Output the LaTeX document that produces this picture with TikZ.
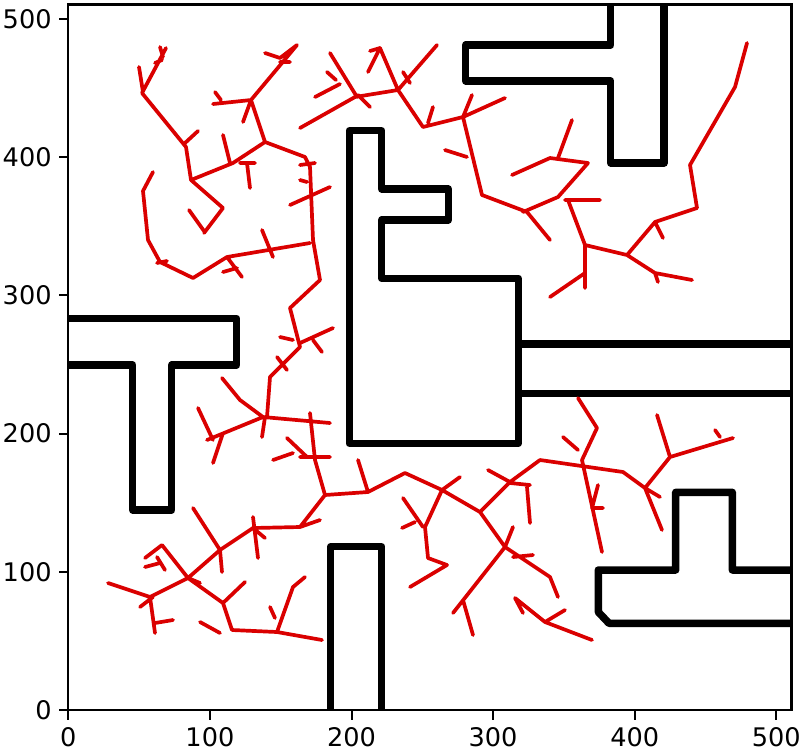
\documentclass[tikz,border=0pt]{standalone}
\usepackage{fontspec}
\setmainfont{DejaVu Sans}
\definecolor{treered}{RGB}{218,0,0}
\begin{document}
\begin{tikzpicture}[x=0.5pt,y=-0.5pt,
  tree/.style={draw=treered,line width=1.85pt,line cap=round,line join=round},
  obst/.style={draw=black,line width=3.75pt,line join=round},
  frame/.style={draw=black,line width=1.15pt},
  tick/.style={draw=black,line width=1pt},
  ticklab/.style={font=\fontsize{12.8}{15}\selectfont,inner sep=0pt}]
\useasboundingbox[fill=white] (0,0) rectangle (802,751);
% obstacles
\begin{scope}
\clip (68.3,4.5) rectangle (791.5,710);
\draw[obst] (610.7,0)--(610.7,45)--(465.7,45)--(465.7,81)--(610.7,81)--(610.7,163)--(664,163)--(664,0);
\draw[obst] (349.3,130.7)--(381.7,130.7)--(381.7,189)--(448.3,189)--(448.3,220)--(381.7,220)--(381.7,278.3)--(518.3,278.3)--(518.3,443.3)--(349.3,443.3)--cycle;
\draw[obst] (518.3,344)--(795,344);
\draw[obst] (518.3,393.3)--(795,393.3);
\draw[obst] (64,318.3)--(236.7,318.3)--(236.7,365)--(171.7,365)--(171.7,510)--(132.7,510)--(132.7,365)--(64,365);
\draw[obst] (330.7,715)--(330.7,546.7)--(381.7,546.7)--(381.7,715);
\draw[obst] (795,570)--(732.3,570)--(732.3,492.3)--(675.7,492.3)--(675.7,570)--(598.3,570)--(598.3,612)--(609,623.3)--(795,623.3);
\end{scope}
% tree
\draw[tree]
 (166,48)--(142,93) (139,67)--(143,92) (160,47)--(163,57) (155,63)--(162,60)
 (142,93)--(186,147)--(191,180) (185,143)--(198,131)
 (191,180)--(233,163)--(265,142) (230,163)--(223,135)
 (240,163)--(255,163) (247,163)--(250,188)
 (265,142)--(251,100)--(297,45) (251,100)--(213,104) (215,92)--(221,100)
 (251,100)--(243,122) (265,53)--(280,58)--(297,45) (280,62)--(290,62)
 (265,142)--(305,157)--(310,167)--(313,240)--(320,280)--(290,308)--(300,347)--(270,377)--(267,417)
 (300,165)--(315,163) (290,205)--(330,187) (300,180)--(307,182)
 (280,337)--(293,340) (300,343)--(333,328) (313,340)--(322,352) (277,357)--(287,370)
 (153,172)--(143,191)--(148,240)--(160,262)--(193,278)--(227,257)--(310,243)
 (157,263)--(167,261) (227,257)--(242,277) (223,272)--(237,268) (262,230)--(273,257)
 (191,180)--(223,208)--(204,233) (189,210)--(204,231)
 (300,128)--(355,97)--(398,90)--(437,45)
 (398,90)--(423,127)--(463,117)--(505,98)
 (315,97)--(340,84) (327,72)--(336,80) (330,53)--(357,97) (358,95)--(370,107)
 (398,90)--(380,48)--(368,72) (370,51)--(380,48) (403,72)--(410,83)
 (433,107)--(428,123) (472,95)--(463,117)
 (463,117)--(482,195)--(527,212)--(550,240) (445,150)--(467,157)
 (512,175)--(550,158)--(588,163)--(558,197)--(523,212) (558,158)--(572,120)
 (565,200)--(600,200)
 (568,200)--(585,245)--(627,255)--(655,222)--(697,208)--(690,165)--(735,87)--(747,43)
 (655,222)--(663,238) (585,245)--(585,288) (585,273)--(550,297)
 (627,255)--(655,273)--(692,280) (655,273)--(658,282)
 (222,378)--(240,400)--(263,417) (263,417)--(330,423) (263,417)--(207,440)
 (198,408)--(213,440) (223,433)--(213,463) (265,417)--(262,437)
 (310,413)--(315,460)--(325,495) (287,438)--(307,457) (300,457)--(330,457) (273,460)--(293,453)
 (325,495)--(368,492)--(405,473)--(442,490)--(480,512)--(505,547)--(550,577)--(558,597)
 (358,460)--(368,492) (442,490)--(460,477)
 (442,490)--(425,527)--(428,558)--(447,565)--(410,587)
 (403,498)--(423,527) (402,528)--(415,522)
 (480,512)--(510,482)--(540,460)--(623,472)--(645,488)--(662,530)
 (488,470)--(510,482) (510,483)--(530,485) (527,487)--(530,523)
 (505,547)--(453,613) (463,600)--(473,635) (505,547)--(513,527) (513,557)--(533,555)
 (515,598)--(545,622)--(592,640) (545,622)--(565,610) (515,598)--(523,613)
 (578,398)--(597,428)--(582,460)--(602,552) (563,437)--(578,450)
 (598,485)--(592,508)--(603,508)
 (645,488)--(670,457)--(657,415) (670,457)--(733,438) (715,430)--(720,437) (645,488)--(660,497)
 (325,495)--(300,527)--(253,528)--(220,550)--(188,578) (300,527)--(320,520)
 (193,508)--(220,550) (253,517)--(258,558) (253,528)--(265,538) (220,550)--(222,572)
 (188,578)--(162,545)--(145,558) (145,567)--(160,563) (157,557)--(165,570)
 (188,578)--(150,597)--(108,583) (150,597)--(155,633) (140,607)--(153,597) (155,623)--(173,620)
 (188,578)--(223,603)--(232,630) (223,603)--(245,582) (200,622)--(220,633)
 (232,630)--(277,632)--(322,640) (277,632)--(293,587)--(305,577) (270,607)--(275,618)
 (188,578)--(200,583);
% frame and ticks
\draw[frame] (68.3,4.5) rectangle (791.5,710);
\foreach \v/\p in {0/68.3,100/209.9,200/351.5,300/493.1,400/634.7,500/776.3}{
  \draw[tick] (\p,710)--(\p,720);
  \node[ticklab,anchor=base] at (\p,746) {\v};
}
\foreach \v/\p in {0/710,100/571.8,200/433.6,300/295.4,400/157.2,500/19}{
  \draw[tick] (68.3,\p)--(59,\p);
  \node[ticklab,anchor=east] at (52,\p) {\v};
}
\end{tikzpicture}
\end{document}
